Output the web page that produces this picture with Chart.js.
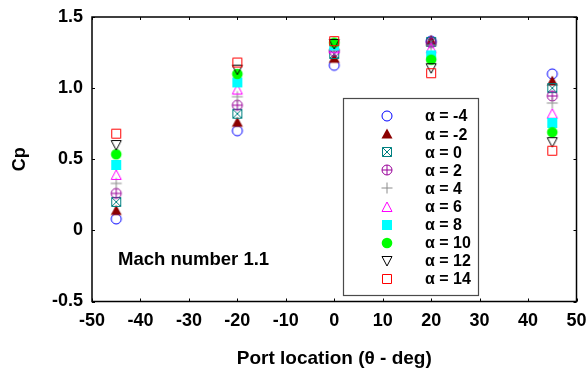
<!DOCTYPE html>
<html>
<head>
<meta charset="utf-8">
<script src="https://cdn.jsdelivr.net/npm/chart.js@4.4.1/dist/chart.umd.min.js"></script>
<style>
  html, body { margin: 0; padding: 0; background: #fff; }
  #wrap { width: 587px; height: 372px; }
</style>
</head>
<body>
<div id="wrap"><canvas id="cpChart" width="587" height="372"></canvas></div>
<script>
// port locations (theta, deg)
const ports = [-45, -20, 0, 20, 45];
const alphas = [-4, -2, 0, 2, 4, 6, 8, 10, 12, 14];

// Cp at each port, one array per angle of attack
const cpM4 = [0.08, 0.70, 1.16, 1.33, 1.10];
const cpM2 = [0.14, 0.76, 1.21, 1.335, 1.05];
const cp0 = [0.20, 0.82, 1.24, 1.325, 1.00];
const cp2 = [0.26, 0.88, 1.26, 1.32, 0.945];
const cp4 = [0.33, 0.94, 1.27, 1.30, 0.895];
const cp6 = [0.39, 0.99, 1.28, 1.28, 0.82];
const cp8 = [0.46, 1.04, 1.30, 1.23, 0.755];
const cp10 = [0.535, 1.10, 1.32, 1.20, 0.69];
const cp12 = [0.60, 1.13, 1.31, 1.14, 0.62];
const cp14 = [0.68, 1.18, 1.33, 1.105, 0.56];
const cpSeries = [cpM4, cpM2, cp0, cp2, cp4, cp6, cp8, cp10, cp12, cp14];

const xTicks = [-50, -40, -30, -20, -10, 0, 10, 20, 30, 40, 50];
const yTicks = [-0.5, 0, 0.5, 1.0, 1.5];

const markerKinds = ['circle', 'triFill', 'boxX', 'circlePlus', 'plus', 'tri', 'squareFill', 'circleFill', 'triDown', 'square'];
const markerColors = ['#0000ff', '#8b0000', '#008080', '#990099', '#8c8c8c', '#ff00ff', '#00ffff', '#00ff00', '#000000', '#ff0000'];

const FONT = '"Liberation Sans", Arial, sans-serif';

// small canvases used as point symbols
function makeMarker(kind, color) {
    const c = document.createElement('canvas');
    c.width = 14;
    c.height = 14;
    const g = c.getContext('2d');
    g.strokeStyle = color;
    g.fillStyle = color;
    g.lineWidth = 1;
    g.beginPath();
    switch (kind) {
        case 'circle':
            g.arc(7, 7, 5, 0, Math.PI * 2);
            g.stroke();
            break;
        case 'circleFill':
            g.arc(7, 7, 5.3, 0, Math.PI * 2);
            g.fill();
            break;
        case 'circlePlus':
            g.arc(7, 7, 5, 0, Math.PI * 2);
            g.moveTo(2, 7); g.lineTo(12, 7);
            g.moveTo(7, 2); g.lineTo(7, 12);
            g.stroke();
            break;
        case 'plus':
            g.moveTo(1.5, 7); g.lineTo(12.5, 7);
            g.moveTo(7, 1.5); g.lineTo(7, 12.5);
            g.stroke();
            break;
        case 'triFill':
            g.moveTo(7, 1.5); g.lineTo(12.5, 11.5); g.lineTo(1.5, 11.5); g.closePath();
            g.fill();
            break;
        case 'tri':
            g.moveTo(7, 2); g.lineTo(12, 11.5); g.lineTo(2, 11.5); g.closePath();
            g.stroke();
            break;
        case 'triDown':
            g.moveTo(2, 2.5); g.lineTo(12, 2.5); g.lineTo(7, 12); g.closePath();
            g.stroke();
            break;
        case 'square':
            g.rect(2.5, 2.5, 9, 9);
            g.stroke();
            break;
        case 'squareFill':
            g.rect(2, 2, 10, 10);
            g.fill();
            break;
        case 'boxX':
            g.rect(2.5, 2.5, 9, 9);
            g.moveTo(2.5, 2.5); g.lineTo(11.5, 11.5);
            g.moveTo(11.5, 2.5); g.lineTo(2.5, 11.5);
            g.stroke();
            break;
    }
    return c;
}

const markers = markerKinds.map((k, i) => makeMarker(k, markerColors[i]));

const datasets = alphas.map((a, i) => ({
    label: `α = ${a}`,
    data: ports.map((p, j) => ({ x: p, y: cpSeries[i][j] })),
    pointStyle: markers[i],
    pointRadius: 6,
    showLine: false,
    order: alphas.length - i
}));

// box frame, inward ticks, text note and legend
const framePlugin = {
    id: 'frame',
    afterDraw(chart) {
        const ctx = chart.ctx;
        const a = chart.chartArea;
        const xs = chart.scales.x;
        const ys = chart.scales.y;
        ctx.save();
        ctx.strokeStyle = '#000';
        ctx.lineWidth = 1.5;
        ctx.strokeRect(a.left, a.top, a.right - a.left, a.bottom - a.top);

        ctx.lineWidth = 1;
        ctx.beginPath();
        xTicks.forEach(v => {
            const px = Math.round(xs.getPixelForValue(v)) + 0.5;
            ctx.moveTo(px, a.bottom); ctx.lineTo(px, a.bottom - 3);
            ctx.moveTo(px, a.top); ctx.lineTo(px, a.top + 3);
        });
        yTicks.forEach(v => {
            const py = Math.round(ys.getPixelForValue(v)) + 0.5;
            ctx.moveTo(a.left, py); ctx.lineTo(a.left + 3, py);
            ctx.moveTo(a.right, py); ctx.lineTo(a.right - 3, py);
        });
        ctx.stroke();

        ctx.fillStyle = '#000';
        ctx.font = `bold 18.5px ${FONT}`;
        ctx.textBaseline = 'middle';
        ctx.textAlign = 'left';
        ctx.fillText('Mach number 1.1', 118, 260);

        // legend
        const lx = 343.5, ly = 98.5, lw = 135, lh = 197;
        ctx.fillStyle = '#fff';
        ctx.fillRect(lx, ly, lw, lh);
        ctx.strokeStyle = '#4a4a4a';
        ctx.lineWidth = 1.2;
        ctx.strokeRect(lx, ly, lw, lh);
        ctx.font = `bold 16px ${FONT}`;
        ctx.fillStyle = '#000';
        datasets.forEach((d, i) => {
            const y = 116 + i * 18.1;
            const m = markers[i];
            ctx.drawImage(m, Math.round(387 - m.width / 2), Math.round(y - m.height / 2));
            ctx.fillText(d.label, 425, y + 1);
        });
        ctx.restore();
    }
};

new Chart(document.getElementById('cpChart'), {
    type: 'scatter',
    data: { datasets },
    options: {
        responsive: false,
        animation: false,
        layout: { padding: { top: 17, right: 10.5, left: 0, bottom: 0 } },
        plugins: {
            legend: { display: false },
            tooltip: { enabled: false }
        },
        scales: {
            x: {
                type: 'linear',
                min: -50,
                max: 50,
                afterFit: s => {
                    s.height = 70.5;
                    s.paddingLeft = 0;
                    s.paddingRight = 0;
                },
                afterBuildTicks: s => { s.ticks = xTicks.map(v => ({ value: v })); },
                grid: { display: false, drawTicks: false },
                border: { display: false },
                ticks: {
                    color: '#000',
                    padding: 9,
                    font: { family: FONT, size: 18, weight: 'bold' }
                },
                title: {
                    display: true,
                    text: 'Port location (θ - deg)',
                    color: '#000',
                    padding: { top: 4, bottom: 2 },
                    font: { family: FONT, size: 19, weight: 'bold' }
                }
            },
            y: {
                type: 'linear',
                min: -0.5,
                max: 1.5,
                afterFit: s => {
                    s.width = 92;
                    s.paddingTop = 0;
                    s.paddingBottom = 0;
                },
                afterBuildTicks: s => { s.ticks = yTicks.map(v => ({ value: v })); },
                grid: { display: false, drawTicks: false },
                border: { display: false },
                ticks: {
                    color: '#000',
                    padding: 9,
                    font: { family: FONT, size: 18, weight: 'bold' },
                    callback: v => v === 0 ? '0' : v.toFixed(1)
                },
                title: {
                    display: true,
                    text: 'Cp',
                    color: '#000',
                    padding: { top: 9, bottom: 4 },
                    font: { family: FONT, size: 18, weight: 'bold' }
                }
            }
        }
    },
    plugins: [framePlugin]
});
</script>
</body>
</html>
